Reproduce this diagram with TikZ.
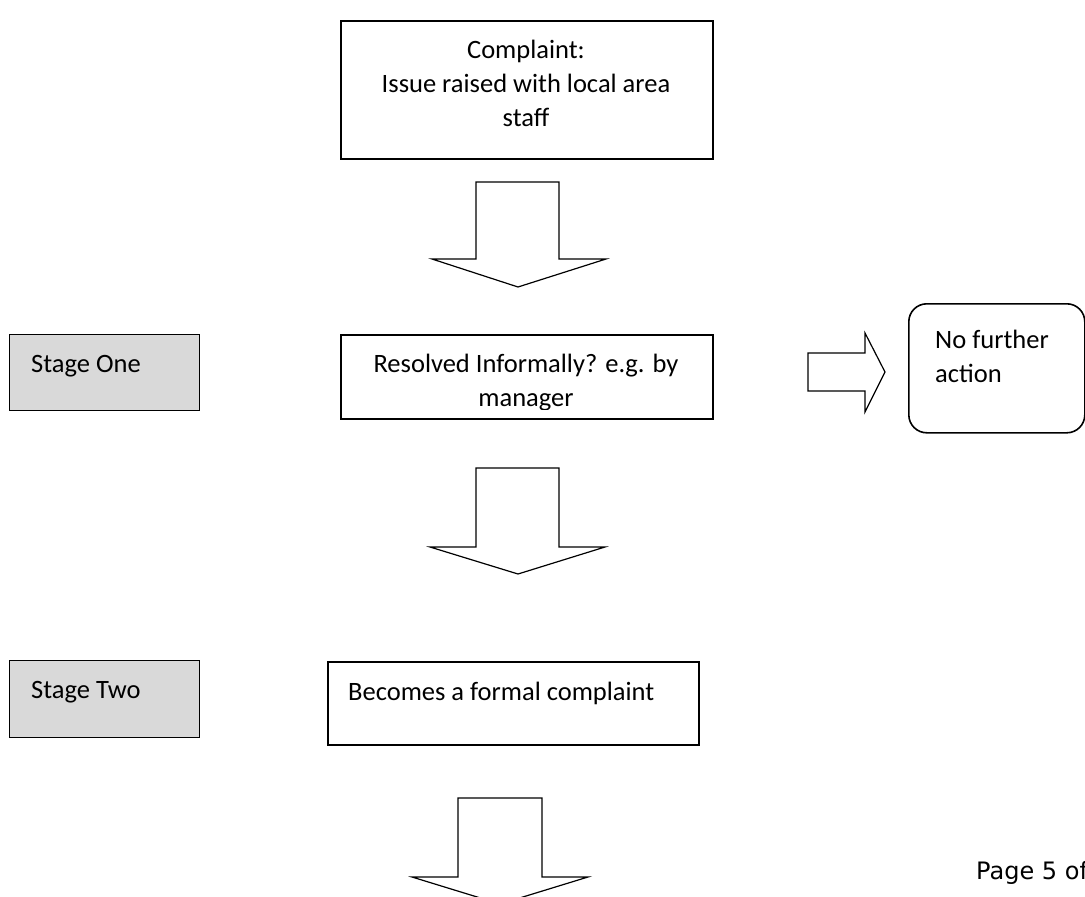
\documentclass[tikz,border=0pt]{standalone}
\usepackage{fontspec}
\setmainfont{Carlito}
\newfontfamily\pagefont{DejaVu Sans}
\definecolor{stagegray}{HTML}{D9D9D9}
\tikzset{
  box/.style={draw, line width=1.6pt, inner sep=0pt},
  stagebox/.style={box, fill=stagegray, line width=1.3pt},
  boxtext/.style={inner sep=0pt, font=\fontsize{26.5}{34}\selectfont},
  blockarrow/.style={draw, line width=1.2pt, fill=white, line join=miter}
}

\begin{document}
\begin{tikzpicture}[x=1pt,y=-1pt]
\useasboundingbox (0,0) rectangle (1085,897);
\clip (0,0) rectangle (1085,897);
\fill [white] (0,0) rectangle (1085,897);

\node [box, anchor=north west, minimum width=372, minimum height=138] (complaint) at (340,20) {};
\node [boxtext, align=center, anchor=base] (complainttext) at (526,126) {Complaint:\\Issue raised with local area\\staff};

\draw [blockarrow] (476,182) -- (559,182) -- (559,259) -- (606,259) -- (518,287) -- (432,259) -- (476,259) -- cycle;

\node [stagebox, anchor=north west, minimum width=190, minimum height=76] (stageone) at (9,334) {};
\node [boxtext, anchor=base west] (stageonetext) at (31,372) {Stage One};

\node [box, anchor=north west, minimum width=372, minimum height=84] (informal) at (340,334) {};
\begin{scope}
\clip (340,334) rectangle (712,409);
\node [boxtext, align=center, anchor=base] (informaltext) at (526,406) {Resolved Informally? e.g. by\\manager};
\end{scope}

\draw [blockarrow] (808,353) -- (865,353) -- (865,333) -- (885,372) -- (865,412) -- (865,391) -- (808,391) -- cycle;

\node [box, rounded corners=18, anchor=north west, minimum width=176, minimum height=129] (nofurther) at (908,303) {};
\node [boxtext, align=left, anchor=base west] (nofurthertext) at (935,382) {No further\\action};

\draw [blockarrow] (476,468) -- (559,468) -- (559,547) -- (605,547) -- (518,574) -- (430,547) -- (476,547) -- cycle;

\node [stagebox, anchor=north west, minimum width=190, minimum height=77] (stagetwo) at (9,660) {};
\node [boxtext, anchor=base west] (stagetwotext) at (31,698) {Stage Two};

\node [box, anchor=north west, minimum width=371, minimum height=83] (formal) at (327,661) {};
\node [boxtext, anchor=base west] (formaltext) at (348,700) {Becomes a formal complaint};

\draw [blockarrow] (458,798) -- (542,798) -- (542,877) -- (588,877) -- (500,904) -- (412,877) -- (458,877) -- cycle;

\node [font=\pagefont\fontsize{24}{28}\selectfont, anchor=base west, inner sep=0pt] (pagenum) at (976,879) {Page 5 of};
\end{tikzpicture}
\end{document}
